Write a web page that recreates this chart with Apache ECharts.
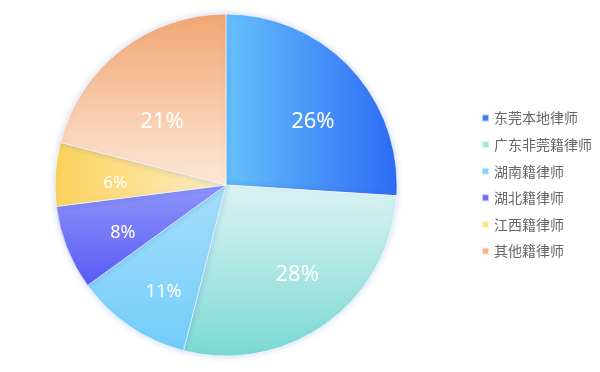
<!DOCTYPE html>
<html><head><meta charset="utf-8">
<script src="https://cdn.jsdelivr.net/npm/echarts@6/dist/echarts.min.js"></script>
<style>html,body{margin:0;padding:0;background:#fff}#c{width:600px;height:372px}</style>
</head><body><div id="c"></div>
<script>
const categories = ['东莞本地律师','广东非莞籍律师','湖南籍律师','湖北籍律师','江西籍律师','其他籍律师'];
const values = [26, 28, 11, 8, 6, 21];
const legendColors = ['#3a7ef0','#a8e4e0','#86d3f6','#6a6ff5','#fde585','#f5b48c'];
// label styling per slice (font size and nudge)
const labelSizes = [22, 22, 18, 18, 17, 22];
const labelNudge = [[6,13],[6,0],[0,15],[0,7],[0,5],[4,24]];
const G = (x,y,x2,y2,c1,c2)=>new echarts.graphic.LinearGradient(x,y,x2,y2,[{offset:0,color:c1},{offset:1,color:c2}]);
const gradients = [
  G(0,0,1,0,'#66c0fb','#2d6bf5'),
  G(0,0,0,1,'#dcf3f3','#7bd9d3'),
  G(0,0,0,1,'#a6dffb','#72cdfa'),
  G(0,0,0,1,'#9095fb','#585bf4'),
  G(0,0,1,0,'#fcd25c','#fdeec6'),
  G(0,0,0,1,'#f2a673','#fde8d8')
];
const chart = echarts.init(document.getElementById('c'));
const center = [226,185];
chart.setOption({
  animation:false,
  legend:{
    orient:'vertical', left:476, top:106, itemWidth:7, itemHeight:7, itemGap:12.6,
    icon:'rect',
    textStyle:{color:'#666', fontSize:14, fontFamily:'Noto Sans CJK SC'},
    data: categories.map((n,i)=>({name:n, itemStyle:{color:legendColors[i]}}))
  },
  series:[{
    type:'pie', center:center, radius:[0,171], startAngle:90, clockwise:true,
    label:{show:false}, labelLine:{show:false},
    itemStyle:{borderColor:'rgba(255,255,255,0.6)', borderWidth:1, shadowBlur:6, shadowColor:'rgba(60,100,200,0.25)'},
    data: categories.map((n,i)=>({name:n, value:values[i], itemStyle:{color:gradients[i]}}))
  },{
    type:'pie', center:center, radius:[60,156], startAngle:90, clockwise:true, silent:true,
    legendHoverLink:false,
    itemStyle:{color:'rgba(0,0,0,0)'},
    label:{show:true, position:'inside', formatter:'{c}%', color:'#fff', fontFamily:'Noto Sans'},
    labelLine:{show:false},
    data: categories.map((n,i)=>({name:n+' ', value:values[i],
      label:{fontSize:labelSizes[i], offset:labelNudge[i]}}))
  }]
});
</script></body></html>
